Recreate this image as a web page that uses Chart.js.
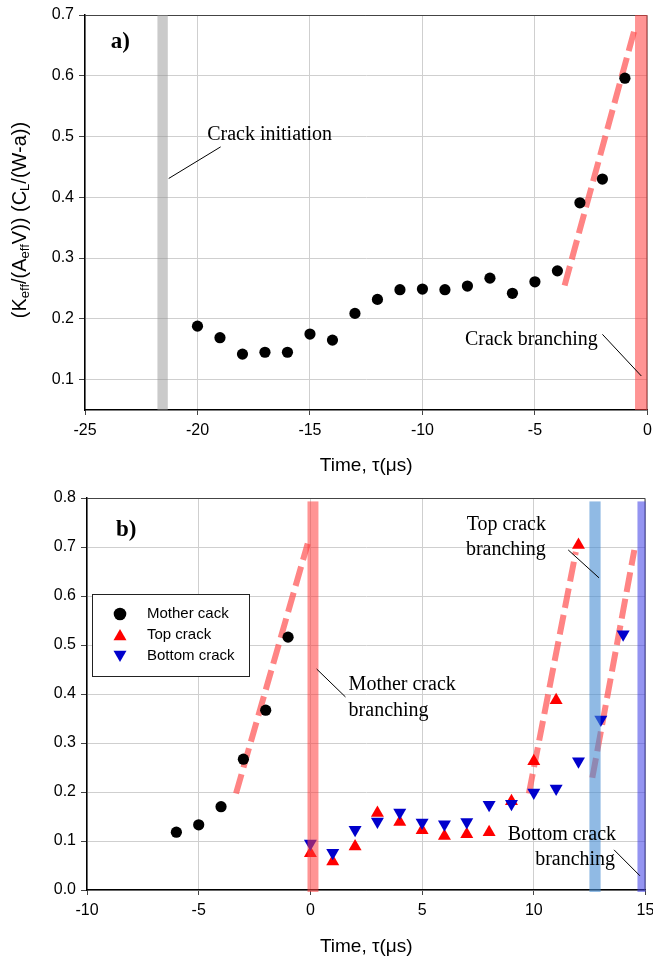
<!DOCTYPE html>
<html><head><meta charset="utf-8">
<script src="https://cdn.jsdelivr.net/npm/chart.js@4.4.1/dist/chart.umd.min.js"></script>
<style>
html,body{margin:0;padding:0;background:#fff;}
.wrap{position:absolute;left:0;width:653px;height:481px;}
</style></head><body>
<div class="wrap" style="top:0"><canvas id="chartA" width="653" height="481"></canvas></div>
<div class="wrap" style="top:481px"><canvas id="chartB" width="653" height="481"></canvas></div>
<script>
// ---------------- DATA ----------------
// panel a)
const timeA = [-20,-19,-18,-17,-16,-15,-14,-13,-12,-11,-10,-9,-8,-7,-6,-5,-4,-3,-2,-1];
const kA    = [0.188,0.169,0.142,0.145,0.145,0.175,0.165,0.209,0.232,0.248,0.249,0.248,0.254,0.267,0.242,0.261,0.279,0.391,0.430,0.596];
const fitAx = [-3.68,-0.52];
const fitAy = [0.255,0.683];
const xTicksA = [-25,-20,-15,-10,-5,0];
const yTicksA = [0.1,0.2,0.3,0.4,0.5,0.6,0.7];
const bandsAx = [[-21.78,-21.32],[-0.55,0]];

// panel b)
const timeMother = [-6,-5,-4,-3,-2,-1];
const kMother    = [0.118,0.133,0.170,0.267,0.367,0.516];
const timeTop    = [0,1,2,3,4,5,6,7,8,9,10,11,12];
const kTop       = [0.075,0.058,0.089,0.157,0.139,0.122,0.110,0.114,0.118,0.181,0.263,0.387,0.704];
const timeBottom = [0,1,2,3,4,5,6,7,8,9,10,11,12,13,14];
const kBottom    = [0.095,0.076,0.123,0.140,0.158,0.138,0.134,0.139,0.174,0.176,0.199,0.207,0.263,0.348,0.522];
const fitMx = [-3.33,-0.12], fitMy = [0.197,0.707];
const fitTx = [9.78,11.88],  fitTy = [0.197,0.690];
const fitBx = [12.62,14.50], fitBy = [0.229,0.694];
const xTicksB = [-10,-5,0,5,10,15];
const yTicksB = [0.0,0.1,0.2,0.3,0.4,0.5,0.6,0.7,0.8];
const bandsBx = [[-0.13,0.36],[12.49,12.99],[14.64,15.0]];
const bandsBy = [-0.004,0.793];
const seriesNames = ['Mother cack','Top crack','Bottom crack'];

// ---------------- STYLE / LAYOUT ----------------
const SANS = "'Liberation Sans', Arial, sans-serif";
const SERIF = "'Liberation Serif', 'Times New Roman', serif";
const dashColor = 'rgba(255,80,80,0.70)';
const bandColorsA = ['rgba(150,150,150,0.5)','rgba(255,60,60,0.55)'];
const bandColorsB = ['rgba(255,60,60,0.55)','rgba(70,140,210,0.6)','rgba(60,60,230,0.55)'];

function pts(xs, ys){ return xs.map((x,i)=>({x:x,y:ys[i]})); }
function dashDs(xs, ys){
  return {data:pts(xs,ys), showLine:true, borderColor:dashColor, borderWidth:6, order:5,
    borderDash:[20,7], pointRadius:0, pointHoverRadius:0, fill:false, borderCapStyle:'butt'};
}

const decor = {
  id:'decor',
  afterDatasetsDraw(chart, args, o){
    const ctx = chart.ctx, a = chart.chartArea, xs = chart.scales.x, ys = chart.scales.y;
    const X = v=>xs.getPixelForValue(v), Y = v=>ys.getPixelForValue(v);
    ctx.save();
    // frame top/right
    ctx.strokeStyle = '#444'; ctx.lineWidth = 1;
    ctx.beginPath(); ctx.moveTo(a.left, a.top+0.5); ctx.lineTo(a.right-0.5, a.top+0.5); ctx.lineTo(a.right-0.5, a.bottom); ctx.stroke();
    // bands
    o.bands.forEach((b,i)=>{
      ctx.fillStyle = o.bandColors[i];
      const y0 = o.bandY ? Y(o.bandY[1]) : a.top, y1 = o.bandY ? Y(o.bandY[0]) : a.bottom;
      const x0 = X(b[0]), x1 = Math.min(X(b[1]), a.right);
      ctx.fillRect(x0, y0, x1-x0, y1-y0);
    });
    // leader lines
    ctx.strokeStyle = '#000'; ctx.lineWidth = 1;
    o.leaders.forEach(l=>{ ctx.beginPath(); ctx.moveTo(X(l[0]),Y(l[1])); ctx.lineTo(X(l[2]),Y(l[3])); ctx.stroke(); });
    // texts
    ctx.fillStyle = '#000'; ctx.textBaseline = 'middle';
    o.texts.forEach(t=>{
      ctx.font = t.font; ctx.textAlign = t.align || 'left';
      ctx.fillText(t.s, X(t.x), Y(t.y));
    });
    // legend
    if (o.legend){
      const L = o.legend, lx = a.left + L.dx, ly = a.top + L.dy;
      ctx.fillStyle = '#fff'; ctx.fillRect(lx, ly, L.w, L.h);
      ctx.strokeStyle = '#222'; ctx.lineWidth = 1; ctx.strokeRect(lx+0.5, ly+0.5, L.w, L.h);
      ctx.font = '15px ' + SANS; ctx.textAlign = 'left';
      [0,1,2].forEach((di,k)=>{
        const ds = chart.data.datasets[di];
        const cy = ly + 20 + k*21;
        const tri = ds.pointStyle==='triangle';
        ctx.fillStyle = ds.backgroundColor;
        Chart.helpers.drawPoint(ctx, {pointStyle: ds.pointStyle||'circle', radius: tri?7.5:6.3, rotation: ds.pointRotation||0, borderWidth:0}, lx+28, cy + (tri ? (ds.pointRotation? -1.5 : 1.5) : 0));
        ctx.fillStyle = '#000';
        ctx.fillText(seriesNames[k], lx+55, cy);
      });
    }
    ctx.restore();
  },
  afterDraw(chart, args, o){
    const ctx = chart.ctx, a = chart.chartArea;
    ctx.save();
    ctx.fillStyle = '#000';
    // x title
    ctx.font = '19px ' + SANS; ctx.textAlign = 'center'; ctx.textBaseline = 'middle';
    ctx.fillText('Time, \u03C4(\u03BCs)', (a.left+a.right)/2, o.xTitleY);
    // y title with subscripts
    const big = '20px ' + SANS, small = '13px ' + SANS;
    let total = 0;
    o.yTitle.forEach(p=>{ ctx.font = p.sub ? small : big; total += ctx.measureText(p.t).width; });
    ctx.translate(o.yTitleX, o.yTitleC); ctx.rotate(-Math.PI/2);
    let x = -total/2; ctx.textAlign = 'left'; ctx.textBaseline = 'middle';
    o.yTitle.forEach(p=>{ ctx.font = p.sub ? small : big; ctx.fillText(p.t, x, p.sub ? 5 : 0); x += ctx.measureText(p.t).width; });
    ctx.restore();
  }
};

function scales(xmin,xmax,xt,ymin,ymax,yt,yw,xh){
  const tickFont = {family:SANS, size:16};
  return {
    x:{type:'linear', min:xmin, max:xmax,
      afterBuildTicks:s=>{s.ticks = xt.map(v=>({value:v}));},
      afterFit:s=>{s.height = xh; s.paddingLeft = 0; s.paddingRight = 0;},
      ticks:{font:tickFont, color:'#000', padding:6, maxRotation:0, callback:v=>String(v)},
      grid:{color:'#cfcfcf', lineWidth:1, tickLength:5, tickColor:'#444'},
      border:{color:'#000', width:1.5}},
    y:{type:'linear', min:ymin, max:ymax,
      afterBuildTicks:s=>{s.ticks = yt.map(v=>({value:v}));},
      afterFit:s=>{s.width = yw; s.paddingTop = 0; s.paddingBottom = 0;},
      ticks:{font:tickFont, color:'#000', padding:5, callback:v=>Number(v).toFixed(1)},
      grid:{color:'#cfcfcf', lineWidth:1, tickLength:6, tickColor:'#444'},
      border:{color:'#000', width:1.5}}
  };
}
const common = {responsive:false, animation:false, events:[],
  plugins:{legend:{display:false}, tooltip:{enabled:false}}};

const fText = '20px ' + SERIF, fBold = 'bold 23px ' + SERIF;

new Chart(document.getElementById('chartA'), {
  type:'scatter',
  data:{datasets:[
    {data:pts(timeA,kA), backgroundColor:'#000', borderWidth:0, pointRadius:5.6, order:0},
    dashDs(fitAx, fitAy)
  ]},
  options:Object.assign({}, common, {
    layout:{padding:{top:15, right:4, left:0, bottom:0}},
    scales:scales(-25,0,xTicksA,0.05,0.7,yTicksA,85,71),
    plugins:Object.assign({}, common.plugins, {decor:{
      bands:bandsAx, bandColors:bandColorsA, bandY:null,
      leaders:[[-18.97,0.483,-21.28,0.431],[-2.0,0.1745,-0.27,0.106]],
      texts:[{s:'a)', x:-23.86, y:0.656, font:fBold},
             {s:'Crack initiation', x:-19.57, y:0.503, font:fText},
             {s:'Crack branching', x:-8.11, y:0.166, font:fText}],
      legend:null, xTitleY:466, yTitleX:20, yTitleC:220,
      yTitle:[{t:'(K'},{t:'eff',sub:1},{t:'/(A'},{t:'eff',sub:1},{t:'V)) (C'},{t:'L',sub:1},{t:'/(W-a))'}]
    }})
  }),
  plugins:[decor]
});

new Chart(document.getElementById('chartB'), {
  type:'scatter',
  data:{datasets:[
    {data:pts(timeMother,kMother), backgroundColor:'#000', borderWidth:0, pointRadius:5.6, pointStyle:'circle', order:2},
    {data:pts(timeTop,kTop), backgroundColor:'#ff0000', borderWidth:0, pointRadius:7.5, pointStyle:'triangle', order:1},
    {data:pts(timeBottom,kBottom), backgroundColor:'#0000cc', borderWidth:0, pointRadius:7.5, pointStyle:'triangle', pointRotation:180, order:0},
    dashDs(fitMx, fitMy), dashDs(fitTx, fitTy), dashDs(fitBx, fitBy)
  ]},
  options:Object.assign({}, common, {
    layout:{padding:{top:17, right:4, left:0, bottom:0}},
    scales:scales(-10,15,xTicksB,0,0.8,yTicksB,87,72),
    plugins:Object.assign({}, common.plugins, {decor:{
      bands:bandsBx, bandColors:bandColorsB, bandY:bandsBy,
      leaders:[[0.28,0.451,1.57,0.394],[11.54,0.694,12.92,0.637],[13.59,0.082,14.75,0.029]],
      texts:[{s:'b)', x:-8.70, y:0.735, font:fBold},
             {s:'Mother crack', x:1.71, y:0.418, font:fText},
             {s:'branching', x:1.71, y:0.365, font:fText},
             {s:'Top crack', x:7.0, y:0.745, font:fText},
             {s:'branching', x:6.96, y:0.694, font:fText},
             {s:'Bottom crack', x:13.68, y:0.112, font:fText, align:'right'},
             {s:'branching', x:13.64, y:0.061, font:fText, align:'right'}],
      legend:{dx:5, dy:96, w:157, h:82}, xTitleY:466, yTitleX:20, yTitleC:692,
      yTitle:[{t:'(K'},{t:'eff',sub:1},{t:'/A'},{t:'eff',sub:1},{t:'V)(C'},{t:'L',sub:1},{t:'/(W-a))'}]
    }})
  }),
  plugins:[decor]
});
</script>
</body></html>
